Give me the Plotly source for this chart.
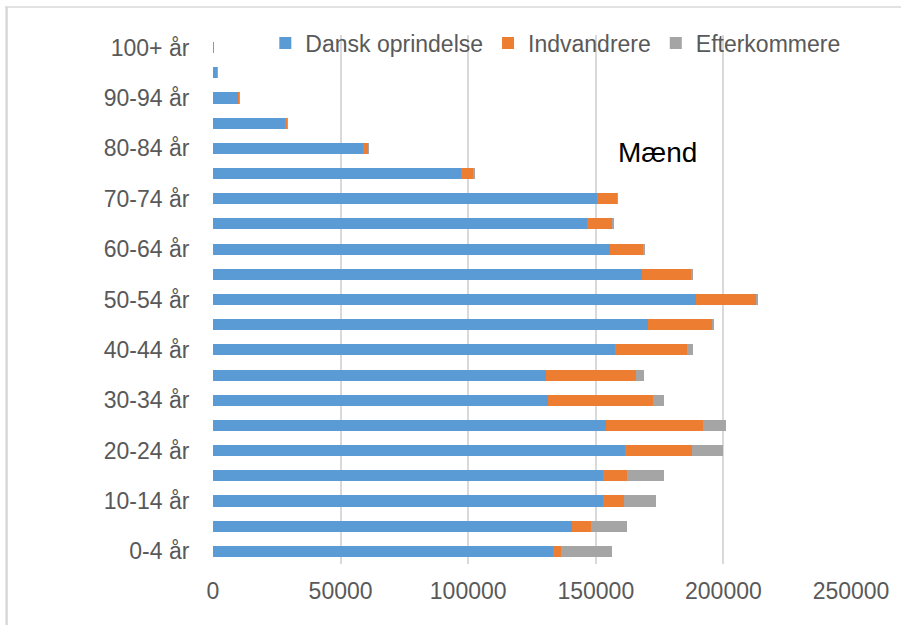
import plotly.graph_objects as go

categories = ["0-4 år", "5-9 år", "10-14 år", "15-19 år", "20-24 år", "25-29 år",
              "30-34 år", "35-39 år", "40-44 år", "45-49 år", "50-54 år", "55-59 år",
              "60-64 år", "65-69 år", "70-74 år", "75-79 år", "80-84 år", "85-89 år",
              "90-94 år", "95-99 år", "100+ år"]

dansk = [133200, 140500, 153000, 153000, 161600, 153900, 131100, 130600, 157700, 170500,
         189100, 168100, 155600, 146700, 150600, 97300, 58600, 28100, 9900, 1850, 150]
indvandrere = [3100, 7700, 8000, 9200, 26000, 38300, 41400, 35000, 28000, 25000,
               23800, 19500, 13100, 9800, 7900, 4900, 2200, 1200, 500, 100, 20]
efterkommere = [19900, 14000, 12600, 14600, 12300, 8800, 4400, 3100, 2200, 800,
                500, 300, 300, 300, 150, 100, 50, 20, 10, 5, 0]

tick_labels = ["0-4 år", "10-14 år", "20-24 år", "30-34 år", "40-44 år", "50-54 år",
               "60-64 år", "70-74 år", "80-84 år", "90-94 år", "100+ år"]

x_ticks = [0, 50000, 100000, 150000, 200000, 250000]

series = [("Dansk oprindelse", dansk, "#5B9BD5"),
          ("Indvandrere", indvandrere, "#ED7D31"),
          ("Efterkommere", efterkommere, "#A5A5A5")]

fig = go.Figure()
for name, vals, color in series:
    fig.add_trace(go.Bar(y=categories, x=vals, name=name, orientation="h",
                         marker=dict(color=color, line=dict(width=0))))

font_family = "Liberation Sans, Arial, sans-serif"

fig.update_layout(
    barmode="stack",
    bargap=0.56,
    width=901, height=625,
    margin=dict(l=213, r=45, t=35, b=61),
    paper_bgcolor="white", plot_bgcolor="white",
    font=dict(family=font_family, size=23, color="#595959"),
    showlegend=True,
    legend=dict(orientation="h", x=0.082, xanchor="left", y=0.985, yanchor="middle",
                bgcolor="rgba(0,0,0,0)", font=dict(size=23, color="#595959"),
                traceorder="normal"),
    xaxis=dict(range=[0, 250000], tickvals=x_ticks, tickformat="d",
               showgrid=True, gridcolor="#d9d9d9", gridwidth=1.5,
               zeroline=False, showline=False,
               ticks="outside", ticklen=6, tickcolor="rgba(0,0,0,0)",
               tickfont=dict(size=23, color="#595959")),
    yaxis=dict(type="category", categoryorder="array", categoryarray=categories,
               tickvals=tick_labels, ticktext=tick_labels,
               showgrid=False, zeroline=False, showline=False,
               ticks="outside", ticklen=18, tickcolor="rgba(0,0,0,0)",
               tickfont=dict(size=23, color="#595959")),
    annotations=[dict(text="Mænd", x=0.697, y=0.777, xref="paper", yref="paper",
                      xanchor="center", yanchor="middle",
                      showarrow=False, font=dict(size=28, color="#000000",
                                                 family=font_family))],
    shapes=[
        dict(type="line", xref="paper", yref="paper", x0=-0.326, x1=1.1,
             y0=1.053, y1=1.053, line=dict(color="#d9d9d9", width=1.5)),
        dict(type="line", xref="paper", yref="paper", x0=-0.3235, x1=-0.3235,
             y0=1.053, y1=-0.2, line=dict(color="#d9d9d9", width=2.5)),
    ],
)

fig.write_html("out.html", config={"displayModeBar": False},
               post_script="document.body.style.margin='0px';")
